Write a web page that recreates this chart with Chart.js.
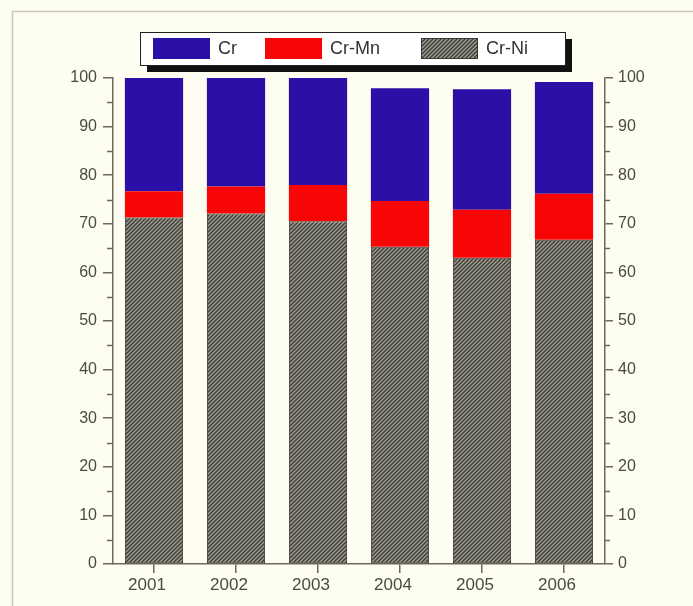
<!DOCTYPE html>
<html>
<head>
<meta charset="utf-8">
<script src="https://cdn.jsdelivr.net/npm/chart.js@4/dist/chart.umd.min.js"></script>
<style>
  html, body { margin: 0; padding: 0; background: #fdfdf1; }
  canvas { display: block; }
</style>
</head>
<body>
<canvas id="c" width="693" height="606"></canvas>
<script>
// Shares by steel grade (percent), stacked bottom-up: Cr-Ni, Cr-Mn, Cr
const years = ['2001', '2002', '2003', '2004', '2005', '2006'];
const crNi = [71.3, 72.1, 70.5, 65.3, 63.0, 66.7];
const crMn = [5.4, 5.6, 7.5, 9.4, 9.9, 9.5];
const cr   = [23.3, 22.3, 22.0, 23.2, 24.8, 23.0];
const yMin = 0, yMax = 100, yStep = 10, yMinorStep = 5;

const FONT = "'Liberation Sans', Arial, sans-serif";
const AXIS = '#6c6a58';
const TEXT = '#4a4a40';
const BG = '#fdfdf1';

// diagonal hatch used for Cr-Ni
function hatch() {
  const t = document.createElement('canvas');
  t.width = 4; t.height = 4;
  const g = t.getContext('2d');
  g.fillStyle = '#a09f96';
  g.fillRect(0, 0, 4, 4);
  g.strokeStyle = '#404039';
  g.lineWidth = 1.5;
  g.beginPath();
  g.moveTo(-1, 5); g.lineTo(5, -1);
  g.moveTo(-1, 1); g.lineTo(1, -1);
  g.moveTo(3, 5); g.lineTo(5, 3);
  g.stroke();
  return g.createPattern(t, 'repeat');
}
const ctx = document.getElementById('c').getContext('2d');
const hatchFill = hatch();

const backdrop = {
  id: 'backdrop',
  beforeDraw(chart) {
    const c = chart.ctx;
    c.save();
    c.fillStyle = BG;
    c.fillRect(0, 0, chart.width, chart.height);
    c.strokeStyle = '#c9c9b2';
    c.lineWidth = 1.5;
    c.beginPath();
    c.moveTo(12.5, chart.height);
    c.lineTo(12.5, 11.5);
    c.lineTo(chart.width, 11.5);
    c.stroke();
    c.restore();
  }
};

// minor ticks at the half steps on both value axes
const minorTicks = {
  id: 'minorTicks',
  afterDraw(chart) {
    const c = chart.ctx;
    const yl = chart.scales.y, yr = chart.scales.y2;
    c.save();
    c.strokeStyle = AXIS;
    c.lineWidth = 1.5;
    c.beginPath();
    for (let v = yMin + yMinorStep; v < yMax; v += yStep) {
      const py = Math.round(yl.getPixelForValue(v)) + 0.5;
      c.moveTo(yl.right - 6, py); c.lineTo(yl.right, py);
      const pr = Math.round(yr.getPixelForValue(v)) + 0.5;
      c.moveTo(yr.left, pr); c.lineTo(yr.left + 5, pr);
    }
    c.stroke();
    c.restore();
  }
};

// boxed legend with a drop shadow, listing the series top-down
const boxLegend = {
  id: 'boxLegend',
  afterDraw(chart) {
    const c = chart.ctx;
    const x = 140, y = 32, w = 425, h = 33;
    c.save();
    c.fillStyle = '#111';
    c.fillRect(x + 7, y + 7, w, h);
    c.fillStyle = '#ffffff';
    c.fillRect(x, y, w, h);
    c.strokeStyle = '#222';
    c.lineWidth = 1;
    c.strokeRect(x + 0.5, y + 0.5, w, h);
    const items = chart.data.datasets.slice().reverse();
    const sx = [153, 265, 421];
    c.font = '18px ' + FONT;
    c.textBaseline = 'middle';
    items.forEach((ds, i) => {
      c.fillStyle = ds.backgroundColor;
      c.fillRect(sx[i], 38, 57, 21);
      if (ds.borderWidth) {
        c.strokeStyle = '#3a3530';
        c.lineWidth = 1;
        c.strokeRect(sx[i] + 0.5, 38.5, 56, 20);
      }
      c.fillStyle = '#333';
      c.fillText(ds.label, sx[i] + 65, 49);
    });
    c.restore();
  }
};

const tickFont = { family: FONT, size: 16 };

new Chart(ctx, {
  type: 'bar',
  data: {
    labels: years,
    datasets: [
      { label: 'Cr-Ni', data: crNi, backgroundColor: hatchFill, borderColor: '#3a3530', borderWidth: 1, borderSkipped: false },
      { label: 'Cr-Mn', data: crMn, backgroundColor: '#f80606', borderWidth: 0 },
      { label: 'Cr', data: cr, backgroundColor: '#2c0fa6', borderWidth: 0 }
    ]
  },
  options: {
    responsive: false,
    animation: false,
    devicePixelRatio: 1,
    layout: { padding: { top: 78, left: 0, right: 0, bottom: 0 } },
    datasets: { bar: { categoryPercentage: 1, barPercentage: 0.71 } },
    plugins: { legend: { display: false }, tooltip: { enabled: false } },
    scales: {
      x: {
        stacked: true,
        grid: { offset: false, drawOnChartArea: false, tickLength: 9, color: AXIS, lineWidth: 1.5 },
        border: { display: true, color: AXIS, width: 1.5 },
        ticks: { font: { family: FONT, size: 17 }, color: TEXT, padding: 2, labelOffset: -7, maxRotation: 0 },
        afterFit(s) { s.height = 42; }
      },
      y: {
        stacked: true,
        position: 'left',
        min: yMin, max: yMax,
        grid: { drawOnChartArea: false, tickLength: 10, color: AXIS, lineWidth: 1.5 },
        border: { display: true, color: AXIS, width: 1.5 },
        ticks: { stepSize: yStep, font: tickFont, color: TEXT, padding: 6 },
        afterFit(s) { s.width = 113; }
      },
      y2: {
        position: 'right',
        min: yMin, max: yMax,
        grid: { drawOnChartArea: false, tickLength: 8, color: AXIS, lineWidth: 1.5 },
        border: { display: true, color: AXIS, width: 1.5 },
        ticks: { stepSize: yStep, font: tickFont, color: TEXT, padding: 5 },
        afterFit(s) { s.width = 88; }
      }
    }
  },
  plugins: [backdrop, minorTicks, boxLegend]
});
</script>
</body>
</html>
